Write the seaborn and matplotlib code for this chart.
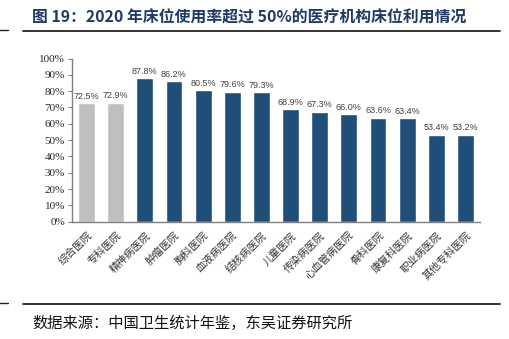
import matplotlib
matplotlib.use("Agg")
import matplotlib.pyplot as plt
import seaborn as sns
import pandas as pd
from matplotlib.ticker import PercentFormatter

categories = ["综合医院", "专科医院", "精神病医院", "肿瘤医院", "胸科医院", "血液病医院", "结核病医院",
              "儿童医院", "传染病医院", "心血管病医院", "骨科医院", "康复科医院", "职业病医院", "其他专科医院"]
values = [72.5, 72.9, 87.8, 86.2, 80.5, 79.6, 79.3, 68.9, 67.3, 66.0, 63.6, 63.4, 53.4, 53.2]
bar_colors = ["#BFBFBF", "#BFBFBF"] + ["#1F4E79"] * 12
title_text = "图 19：2020 年床位使用率超过 50%的医疗机构床位利用情况"
source_text = "数据来源：中国卫生统计年鉴，东吴证券研究所"

sns.set_style("white")
plt.rcParams['font.family'] = ['Noto Sans CJK SC', 'DejaVu Sans']

df = pd.DataFrame({"cat": categories, "val": values})

fig = plt.figure(figsize=(5.10, 3.39), dpi=100)
ax = fig.add_axes([72/510, 1-221.7/339, 408/510, (221.7-58.5)/339])
sns.barplot(data=df, x="cat", y="val", hue="cat", palette=bar_colors, legend=False,
            width=0.58, ax=ax, saturation=1)

ax.set_ylim(0, 100)
ax.set_xlim(-0.5, len(categories) - 0.5)
ax.set_yticks(range(0, 101, 10))
ax.yaxis.set_major_formatter(PercentFormatter(decimals=0))
for lab in ax.get_yticklabels():
    lab.set_fontfamily(['Liberation Serif'])
    lab.set_fontsize(8)
ax.set_xlabel("")
ax.set_ylabel("")
ax.set_xticks(range(len(categories)))
ax.set_xticklabels(categories, rotation=45, ha="right", rotation_mode="anchor",
                   fontsize=7.6, color="#333333")
ax.tick_params(axis="y", length=3, width=0.8, color="#808080", pad=2, left=True)
ax.tick_params(axis="x", length=0, pad=6)
for s in ["top", "right"]:
    ax.spines[s].set_visible(False)
for s in ["left", "bottom"]:
    ax.spines[s].set_color("#808080")
    ax.spines[s].set_linewidth(1.0)

for i, v in enumerate(values):
    ax.text(i, v + 1.5, f"{v:.1f}%", ha="center", va="bottom", fontsize=6.5,
            color="#404040", family=['Liberation Sans'])

fig.text(32/510, 1-18/339, title_text, fontsize=11.4, fontweight="bold", color="#1F3864",
         va="center", ha="left", family=['Noto Sans CJK SC', 'DejaVu Sans'])
fig.add_artist(plt.Line2D([23/510, 500/510], [1-31/339, 1-31/339], color="#222222", lw=1.3))
fig.add_artist(plt.Line2D([0, 8/510], [1-30/339, 1-30/339], color="#222222", lw=1.0))
fig.add_artist(plt.Line2D([23/510, 500/510], [1-304/339, 1-304/339], color="#222222", lw=1.3))
fig.add_artist(plt.Line2D([0, 8/510], [1-303/339, 1-303/339], color="#222222", lw=1.0))
fig.text(32/510, 1-323/339, source_text, fontsize=11, color="#111111", va="center", ha="left",
         family=['Noto Sans CJK SC', 'DejaVu Sans'])

fig.savefig("out.png", dpi=100)
